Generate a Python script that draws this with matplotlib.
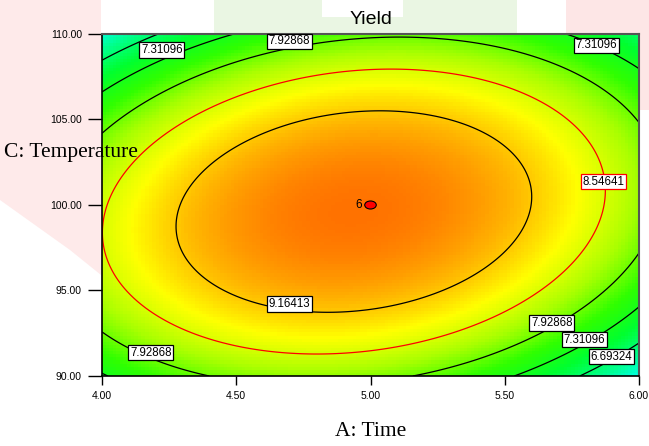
import numpy as np
import matplotlib
matplotlib.use('Agg')
import matplotlib.pyplot as plt
from matplotlib.colors import LinearSegmentedColormap, Normalize
from matplotlib.patches import Ellipse, Rectangle, Polygon

# factor ranges and ticks (actual units)
time_range = [4.0, 6.0]
temp_range = [90.0, 110.0]
time_ticks = [4.0, 4.5, 5.0, 5.5, 6.0]
temp_ticks = [90.0, 95.0, 100.0, 105.0, 110.0]

# quadratic model in coded units (A = Time, C = Temperature)
b0 = 9.775
bA = -0.16
bC = -0.11
bAC = 0.4775
bAA = -1.44
bCC = -1.82

# contour levels
levels = [6.69324, 7.31096, 7.92868, 8.54641, 9.16413]
level_colors = ['black', 'black', 'black', 'red', 'black']

# contour labels: level index, time, temperature
label_level = [1, 2, 1, 3, 4, 2, 2, 1, 0]
label_time = [4.223, 4.699, 5.842, 5.869, 4.698, 4.182, 5.675, 5.798, 5.897]
label_temp = [109.06, 109.57, 109.33, 101.36, 94.22, 91.37, 93.09, 92.12, 91.13]

# design point (centre point with replicates)
design_time = [5.0]
design_temp = [100.0]
design_reps = [6]

# colour ramp (value -> colour)
ramp_values = [5.9, 6.4, 7.0, 7.6, 8.2, 8.8, 9.3, 9.8]
ramp_colors = ['#00FFE8', '#00FF90', '#00FF30', '#30FF00', '#A8FF00',
               '#FFFF00', '#FFB400', '#FF7000']


def model(t, c):
    x = (t - 5.0) / 1.0
    z = (c - 100.0) / 10.0
    return b0 + bA*x + bC*z + bAC*x*z + bAA*x*x + bCC*z*z


fig = plt.figure(figsize=(6.49, 4.46), dpi=100)

# faint watermark from the source page
fig.patches.append(Rectangle((214/649, 1-33/446), 303/649, 33/446, transform=fig.transFigure,
                             fc='#EAF6E3', ec='none', zorder=0))
fig.patches.append(Rectangle((322/649, 1-17/446), 81/649, 17/446, transform=fig.transFigure,
                             fc='white', ec='none', zorder=0))
fig.patches.append(Rectangle((566/649, 1-33/446), 83/649, 33/446, transform=fig.transFigure,
                             fc='#FDE6E6', ec='none', zorder=0))
fig.patches.append(Rectangle((638/649, 1-110/446), 11/649, 110/446, transform=fig.transFigure,
                             fc='#FDE6E6', ec='none', zorder=0))
fig.patches.append(Polygon([(0, 1), (101/649, 1), (101/649, 1-275/446), (70/649, 1-250/446),
                            (0, 1-200/446)], closed=True, transform=fig.transFigure,
                           fc='#FEEAEA', ec='none', zorder=0))

ax = fig.add_axes([102/649, 1-376/446, 537/649, 342/446])
ax.set_zorder(2)
ax.patch.set_alpha(0)

lo, hi = ramp_values[0], ramp_values[-1]
cmap = LinearSegmentedColormap.from_list(
    'de', [((v - lo)/(hi - lo), col) for v, col in zip(ramp_values, ramp_colors)])

tg = np.linspace(time_range[0], time_range[1], 150)
cg = np.linspace(temp_range[0], temp_range[1], 110)
T, C = np.meshgrid(tg, cg)
ax.imshow(model(T, C), extent=[time_range[0], time_range[1], temp_range[0], temp_range[1]],
          origin='lower', aspect='auto', cmap=cmap, norm=Normalize(lo, hi),
          interpolation='nearest')

tf = np.linspace(time_range[0], time_range[1], 400)
cf = np.linspace(temp_range[0], temp_range[1], 400)
TF, CF = np.meshgrid(tf, cf)
ax.contour(TF, CF, model(TF, CF), levels=levels, colors=level_colors, linewidths=0.9)

for i, t, c in zip(label_level, label_time, label_temp):
    ax.text(t, c, '%.5f' % levels[i], ha='center', va='center', fontsize=8.3,
            family='Liberation Sans', zorder=5,
            bbox=dict(boxstyle='square,pad=0.15', fc='white', ec=level_colors[i], lw=0.9))

for t, c, n in zip(design_time, design_temp, design_reps):
    ax.add_patch(Ellipse((t, c), 0.043, 0.47, fc='red', ec='black', lw=0.8, zorder=6))
    ax.annotate(str(n), (t, c), xytext=(-6, 0), textcoords='offset points',
                ha='right', va='center', fontsize=8.5, family='Liberation Sans', zorder=6)

ax.set_xlim(time_range)
ax.set_ylim(temp_range)
ax.set_xticks(time_ticks)
ax.set_xticklabels(['%.2f' % v for v in time_ticks])
ax.set_yticks(temp_ticks)
ax.set_yticklabels(['%.2f' % v for v in temp_ticks])
ax.tick_params(axis='x', direction='out', length=6.2, width=1, labelsize=7.5, pad=4.5)
ax.tick_params(axis='y', direction='out', length=10, width=1, labelsize=7.5, pad=4.5)
for lab in ax.get_xticklabels() + ax.get_yticklabels():
    lab.set_family('Liberation Sans')

for side in ['left', 'bottom']:
    ax.spines[side].set_color('black')
    ax.spines[side].set_linewidth(1.2)
for side in ['top', 'right']:
    ax.spines[side].set_color('#555555')
    ax.spines[side].set_linewidth(1.5)

fig.text(371/649, 1-20/446, 'Yield', ha='center', va='center', fontsize=14,
         family='Liberation Sans')
fig.text(4/649, 1-152/446, 'C: Temperature', ha='left', va='center', fontsize=15.5,
         family='Liberation Serif', zorder=10)
fig.text(371/649, 1-432/446, 'A: Time', ha='center', va='center', fontsize=15.5,
         family='Liberation Serif')

fig.savefig('out.png', dpi=100)
